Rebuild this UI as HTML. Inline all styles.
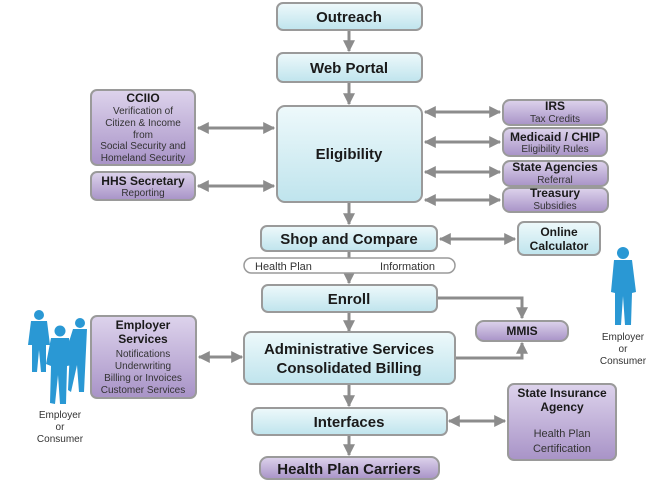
<!DOCTYPE html>
<html><head><meta charset="utf-8"><style>
html,body{margin:0;padding:0;background:#fff;}
svg{display:block;font-family:"Liberation Sans",Arial,sans-serif;}
</style></head><body>
<svg width="659" height="481" viewBox="0 0 659 481" xmlns="http://www.w3.org/2000/svg">
<defs>
<linearGradient id="b" x1="0" y1="0" x2="0" y2="1"><stop offset="0" stop-color="#eef9fb"/><stop offset="1" stop-color="#bfe4ed"/></linearGradient>
<linearGradient id="p" x1="0" y1="0" x2="0" y2="1"><stop offset="0" stop-color="#ddd3ec"/><stop offset="1" stop-color="#a893c7"/></linearGradient>
<marker id="a" viewBox="0 0 10 10" refX="9" refY="5" markerWidth="4" markerHeight="4" orient="auto-start-reverse"><path d="M0,0L10,5L0,10z" fill="#8c8c8c"/></marker>
</defs>
<g stroke="#8c8c8c" stroke-width="3" fill="none">
<line x1="349" y1="31" x2="349" y2="51" marker-end="url(#a)"/>
<line x1="349" y1="83" x2="349" y2="104" marker-end="url(#a)"/>
<line x1="349" y1="203" x2="349" y2="224" marker-end="url(#a)"/>
<line x1="349" y1="252" x2="349" y2="283" marker-end="url(#a)"/>
<line x1="349" y1="313" x2="349" y2="331" marker-end="url(#a)"/>
<line x1="349" y1="385" x2="349" y2="406" marker-end="url(#a)"/>
<line x1="349" y1="436" x2="349" y2="455" marker-end="url(#a)"/>
<line x1="198" y1="128" x2="274" y2="128" marker-start="url(#a)" marker-end="url(#a)"/>
<line x1="198" y1="186" x2="274" y2="186" marker-start="url(#a)" marker-end="url(#a)"/>
<line x1="425" y1="112" x2="500" y2="112" marker-start="url(#a)" marker-end="url(#a)"/>
<line x1="425" y1="142" x2="500" y2="142" marker-start="url(#a)" marker-end="url(#a)"/>
<line x1="425" y1="172" x2="500" y2="172" marker-start="url(#a)" marker-end="url(#a)"/>
<line x1="425" y1="200" x2="500" y2="200" marker-start="url(#a)" marker-end="url(#a)"/>
<line x1="440" y1="239" x2="515" y2="239" marker-start="url(#a)" marker-end="url(#a)"/>
<line x1="199" y1="357" x2="242" y2="357" marker-start="url(#a)" marker-end="url(#a)"/>
<line x1="449" y1="421" x2="505" y2="421" marker-start="url(#a)" marker-end="url(#a)"/>
<polyline points="437,298 522,298 522,318" marker-end="url(#a)"/>
<polyline points="455,358 522,358 522,343" marker-end="url(#a)"/>
</g>
<g stroke="#9a9a9a" stroke-width="2">
<rect x="277" y="3" width="145" height="27" rx="6" fill="url(#b)"/>
<rect x="277" y="53" width="145" height="29" rx="6" fill="url(#b)"/>
<rect x="277" y="106" width="145" height="96" rx="8" fill="url(#b)"/>
<rect x="261" y="226" width="176" height="25" rx="6" fill="url(#b)"/>
<rect x="518" y="222" width="82" height="33" rx="6" fill="url(#b)"/>
<rect x="244" y="258" width="211" height="15" rx="7.5" fill="#fff" stroke-width="1.5"/>
<rect x="262" y="285" width="175" height="27" rx="6" fill="url(#b)"/>
<rect x="244" y="332" width="211" height="52" rx="7" fill="url(#b)"/>
<rect x="252" y="408" width="195" height="27" rx="6" fill="url(#b)"/>
<rect x="91" y="90" width="104" height="75" rx="6" fill="url(#p)"/>
<rect x="91" y="172" width="104" height="28" rx="6" fill="url(#p)"/>
<rect x="503" y="100" width="104" height="25" rx="7" fill="url(#p)"/>
<rect x="503" y="128" width="104" height="28" rx="7" fill="url(#p)"/>
<rect x="503" y="161" width="105" height="25" rx="7" fill="url(#p)"/>
<rect x="503" y="188" width="105" height="24" rx="7" fill="url(#p)"/>
<rect x="476" y="321" width="92" height="20" rx="8" fill="url(#p)"/>
<rect x="91" y="316" width="105" height="82" rx="6" fill="url(#p)"/>
<rect x="508" y="384" width="108" height="76" rx="6" fill="url(#p)"/>
<rect x="260" y="457" width="179" height="22" rx="8" fill="url(#p)"/>
</g>
<g fill="#1a1a1a" text-anchor="middle" font-weight="bold">
<text x="349" y="22" font-size="15">Outreach</text>
<text x="349" y="73" font-size="15">Web Portal</text>
<text x="349" y="159" font-size="15">Eligibility</text>
<text x="349" y="244" font-size="15">Shop and Compare</text>
<text x="559" y="236" font-size="12">Online</text>
<text x="559" y="250" font-size="12">Calculator</text>
<text x="349" y="304" font-size="15">Enroll</text>
<text x="349" y="354" font-size="15">Administrative Services</text>
<text x="349" y="373" font-size="15">Consolidated Billing</text>
<text x="349" y="427" font-size="15">Interfaces</text>
<text x="349" y="474" font-size="15">Health Plan Carriers</text>
<text x="143" y="102" font-size="12">CCIIO</text>
<text x="143" y="185" font-size="12">HHS Secretary</text>
<text x="555" y="110" font-size="12">IRS</text>
<text x="555" y="141" font-size="12">Medicaid / CHIP</text>
<text x="555" y="171" font-size="12">State Agencies</text>
<text x="555" y="197" font-size="12">Treasury</text>
<text x="522" y="335" font-size="12">MMIS</text>
<text x="143" y="329" font-size="12">Employer</text>
<text x="143" y="343" font-size="12">Services</text>
<text x="562" y="397" font-size="12">State Insurance</text>
<text x="562" y="411" font-size="12">Agency</text>
</g>
<g fill="#333" text-anchor="middle" font-size="10">
<text x="143" y="114">Verification of</text>
<text x="143" y="126">Citizen &amp; Income</text>
<text x="143" y="138">from</text>
<text x="143" y="149">Social Security and</text>
<text x="143" y="161">Homeland Security</text>
<text x="143" y="196">Reporting</text>
<text x="555" y="122">Tax Credits</text>
<text x="555" y="152">Eligibility Rules</text>
<text x="555" y="183">Referral</text>
<text x="555" y="209">Subsidies</text>
<text x="143" y="357">Notifications</text>
<text x="143" y="369">Underwriting</text>
<text x="143" y="381">Billing or Invoices</text>
<text x="143" y="393">Customer Services</text>
<text x="562" y="437" font-size="11">Health Plan</text>
<text x="562" y="452" font-size="11">Certification</text>
<text x="60" y="418">Employer</text>
<text x="60" y="430">or</text>
<text x="60" y="442">Consumer</text>
<text x="623" y="340">Employer</text>
<text x="623" y="352">or</text>
<text x="623" y="364">Consumer</text>
</g>
<g font-size="11" fill="#333">
<text x="255" y="270">Health Plan</text>
<text x="380" y="270">Information</text>
</g>
<g fill="#2a98d4">
<circle cx="39" cy="315" r="5"/>
<path d="M31,321 L47,321 L50,345 L46,345 L46,372 L41,372 L39,350 L37,372 L32,372 L32,345 L28,345 Z"/>
<circle cx="80" cy="323" r="5"/>
<path d="M73,329 L87,329 L86,350 L84,392 L79,392 L77,365 L71,392 L68,390 L70,350 L68,345 Z"/>
<circle cx="60" cy="331" r="5.5"/>
<path d="M51,338 L69,338 L72,365 L67,366 L66,404 L60,404 L58,375 L55,404 L50,403 L51,366 L46,364 Z"/>
<circle cx="623" cy="253" r="6"/>
<path d="M614,260 L632,260 L636,292 L632,293 L631,325 L625,325 L623,296 L621,325 L615,325 L615,293 L611,292 Z"/>
</g>
</svg>
</body></html>
